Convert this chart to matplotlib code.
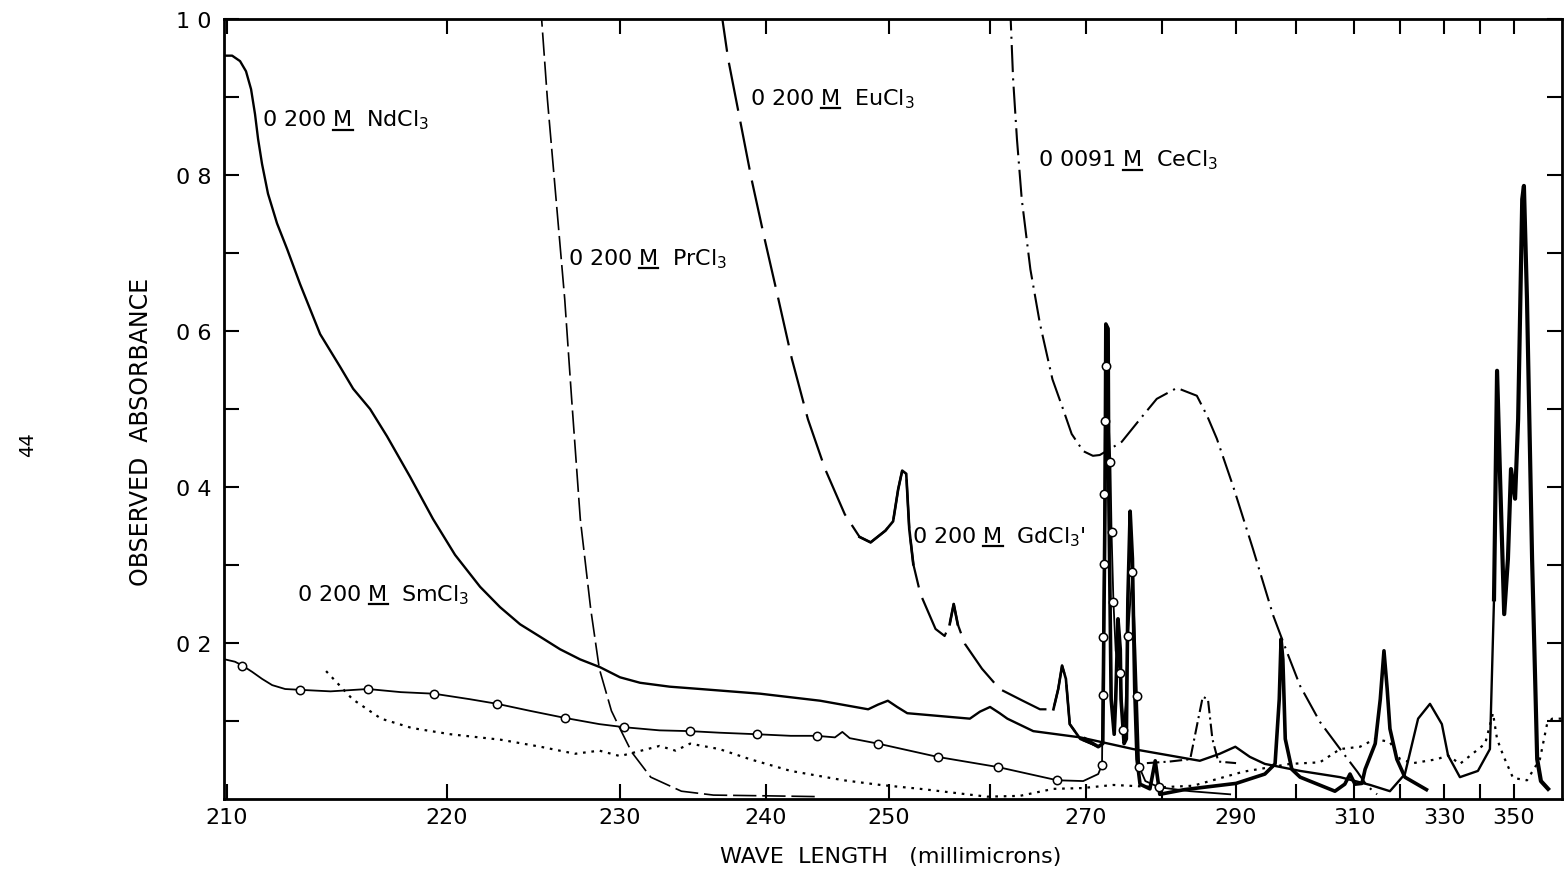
import numpy as np
import matplotlib.pyplot as plt
from matplotlib.lines import Line2D
from matplotlib.transforms import IdentityTransform

plt.rcParams['font.family'] = ['DejaVu Sans']
plt.rcParams['mathtext.default'] = 'regular'

# recorder chart: the wavelength drum is not linear, so nm -> chart position
drum_nm = [200, 210, 220, 230, 240, 250, 260, 270, 280, 290, 300, 310, 320, 330, 340, 350, 360, 370]
drum_pos = [7, 227, 447, 620, 766, 889, 990, 1086, 1162, 1236, 1296, 1354, 1400, 1444, 1480, 1514, 1548, 1582]

# 0.200 M NdCl3 (solid)
nd_nm = [209.9, 210.23, 210.59, 210.86, 211.09, 211.27, 211.41, 211.59, 211.86, 212.27, 212.73, 213.32,
         214.23, 215.14, 215.73, 216.5, 217.27, 218.32, 219.36, 220.46, 221.91, 223.06, 224.22, 225.38,
         226.53, 227.69, 228.84, 230.0, 231.37, 233.4, 235.5, 239.6, 244.4, 248.3, 249.1, 249.9, 250.8,
         251.8, 258.0, 259.0, 260.0, 261.0, 261.8, 264.5, 269.4, 276.2, 285.1, 287.8, 289.9, 292.3, 294.8,
         300.7, 307.6, 313.5, 317.8, 321.1, 324.1, 326.8, 329.5, 331.1, 334.4, 339.4, 342.9, 344.1, 345.0,
         345.9, 347.1, 348.2, 349.1, 350.3, 351.2, 352.4, 352.9, 353.8, 355.3, 356.8, 357.9, 360.0]
nd_a = [0.953, 0.953, 0.946, 0.933, 0.910, 0.878, 0.846, 0.814, 0.776, 0.738, 0.705, 0.660,
        0.596, 0.554, 0.526, 0.500, 0.465, 0.413, 0.359, 0.313, 0.272, 0.246, 0.224, 0.208,
        0.192, 0.179, 0.169, 0.156, 0.149, 0.144, 0.141, 0.135, 0.126, 0.115, 0.121, 0.126, 0.118,
        0.110, 0.103, 0.112, 0.118, 0.110, 0.103, 0.087, 0.079, 0.064, 0.049, 0.058, 0.067, 0.054, 0.045,
        0.036, 0.028, 0.018, 0.010, 0.032, 0.103, 0.122, 0.096, 0.056, 0.028, 0.036, 0.064, 0.256, 0.549,
        0.410, 0.237, 0.308, 0.423, 0.385, 0.487, 0.769, 0.786, 0.641, 0.308, 0.051, 0.023, 0.013]

# 0.200 M PrCl3 (short dashes)
pr_nm = [225.4, 225.8, 226.3, 226.8, 227.2, 227.7, 228.3, 228.8, 229.5, 230.0, 230.8, 232.1, 234.2, 236.4,
         240.3, 244.4]
pr_a = [1.02, 0.897, 0.769, 0.641, 0.513, 0.359, 0.244, 0.167, 0.113, 0.090, 0.060, 0.028, 0.010, 0.005,
        0.004, 0.003]

# 0.200 M EuCl3 (long dashes)
eu_nm = [236.85, 237.4, 238.2, 239.0, 239.9, 241.0, 242.1, 243.4, 244.8, 246.4, 247.6, 248.5, 249.7, 250.4,
         250.9, 251.3, 251.7, 252.0, 252.4, 253.1, 254.6, 255.5, 256.0, 256.4, 256.8, 257.5, 259.2, 261.0,
         263.4, 265.2, 266.6, 267.1, 267.5, 267.9, 268.3, 269.4, 271.2]
eu_a = [1.02, 0.949, 0.872, 0.795, 0.718, 0.641, 0.564, 0.487, 0.423, 0.365, 0.336, 0.329, 0.344, 0.356,
        0.397, 0.421, 0.417, 0.346, 0.301, 0.263, 0.218, 0.209, 0.224, 0.250, 0.224, 0.199, 0.167, 0.141,
        0.126, 0.115, 0.115, 0.141, 0.171, 0.154, 0.096, 0.077, 0.069]

# 0.0091 M CeCl3 (dash-dot)
ce_nm = [262.08, 262.4, 262.8, 263.3, 264.2, 265.2, 266.5, 267.6, 268.5, 269.7, 270.9, 271.8, 273.2, 274.7,
         277.1, 279.3, 282.0, 284.7, 286.1, 287.4, 289.6, 292.8, 296.2, 298.5, 300.7, 304.1, 307.6, 310.7,
         312.8, 315.0]
ce_a = [1.02, 0.923, 0.846, 0.769, 0.679, 0.609, 0.538, 0.500, 0.468, 0.446, 0.440, 0.441, 0.449, 0.458,
        0.487, 0.513, 0.527, 0.517, 0.491, 0.462, 0.401, 0.321, 0.235, 0.188, 0.145, 0.099, 0.064, 0.035,
        0.017, 0.006]

# 0.200 M GdCl3 (line through open circles)
gc_nm = [209.9, 210.36, 210.7, 211.14, 211.59, 212.05, 212.64, 213.3, 214.7, 216.4, 217.9, 219.4, 221.3,
         222.9, 224.8, 226.8, 228.8, 230.3, 232.7, 234.8, 236.8, 239.4, 242.0, 244.1, 245.6, 246.2, 246.8,
         249.1, 254.8, 260.8, 267.0, 269.7, 271.6, 272.1, 272.35, 272.5, 272.6, 272.9, 273.2, 273.35, 273.6,
         273.9, 274.5, 274.9, 275.2, 275.5, 276.1, 276.5, 276.7, 277.0, 277.8, 279.6, 283.8, 289.2]
gc_a = [0.179, 0.176, 0.171, 0.163, 0.154, 0.146, 0.141, 0.140, 0.138, 0.141, 0.137, 0.135, 0.128,
        0.122, 0.113, 0.104, 0.096, 0.092, 0.088, 0.087, 0.085, 0.083, 0.081, 0.081, 0.079, 0.086, 0.078,
        0.071, 0.054, 0.041, 0.024, 0.023, 0.032, 0.044, 0.300, 0.500, 0.558, 0.500, 0.432, 0.342, 0.253,
        0.190, 0.162, 0.088, 0.120, 0.209, 0.291, 0.190, 0.132, 0.041, 0.023, 0.015, 0.010, 0.006]
gm_nm = [210.7, 213.3, 216.4, 219.4, 222.9, 226.8, 230.3, 234.8, 239.4, 244.1, 249.1, 254.8, 260.8, 267.0,
         272.1, 272.19, 272.26, 272.35, 272.42, 272.49, 272.58, 273.2, 273.35, 273.6, 274.5, 274.9, 275.5,
         276.1, 276.7, 277.0, 279.6]
gm_a = [0.171, 0.140, 0.141, 0.135, 0.122, 0.104, 0.092, 0.087, 0.083, 0.081, 0.071, 0.054, 0.041, 0.024,
        0.044, 0.133, 0.208, 0.301, 0.391, 0.485, 0.555, 0.432, 0.342, 0.253, 0.162, 0.088, 0.209, 0.291,
        0.132, 0.041, 0.015]

# heavy trace with the sharp lines
hv_nm = [269.9, 271.6, 272.2, 272.5, 272.6, 272.9, 273.0, 273.3, 273.7, 273.9, 274.2, 274.5, 274.6, 275.0,
         275.3, 275.5, 275.8, 276.1, 276.4, 276.7, 277.1, 278.4, 279.1, 279.7, 283.0, 290.0, 294.8, 296.5,
         297.2, 297.5, 297.8, 298.2, 299.3, 300.7, 306.7, 308.4, 309.3, 310.2, 311.7, 312.4, 314.6, 315.7,
         316.5, 317.2, 317.8, 319.3, 321.1, 326.0]
hv_a = [0.077, 0.067, 0.071, 0.385, 0.609, 0.603, 0.385, 0.128, 0.083, 0.128, 0.231, 0.192, 0.128, 0.071,
        0.077, 0.256, 0.369, 0.308, 0.141, 0.051, 0.019, 0.013, 0.049, 0.006, 0.012, 0.020, 0.032, 0.045,
        0.128, 0.205, 0.179, 0.077, 0.038, 0.028, 0.010, 0.019, 0.032, 0.019, 0.020, 0.038, 0.071, 0.128,
        0.190, 0.141, 0.090, 0.051, 0.028, 0.012]

# 0.200 M SmCl3 (dotted)
sm_nm = [214.5, 215.7, 217.0, 218.4, 220.2, 223.1, 225.4, 227.4, 228.8, 230.0, 232.7, 233.8, 234.8, 236.8,
         238.9, 242.0, 246.3, 249.3, 253.1, 259.7, 263.1, 266.6, 269.6, 273.6, 279.7, 284.2, 291.2, 299.0,
         304.1, 307.6, 311.3, 314.6, 317.8, 320.0, 323.0, 328.4, 331.1, 334.4, 341.5, 343.8, 345.0, 346.8,
         349.7, 353.8, 357.6, 359.7, 361.2, 364.1]
sm_a = [0.164, 0.128, 0.103, 0.091, 0.083, 0.076, 0.067, 0.058, 0.062, 0.055, 0.068, 0.062, 0.071, 0.064,
        0.051, 0.036, 0.024, 0.018, 0.013, 0.003, 0.004, 0.013, 0.014, 0.018, 0.015, 0.017, 0.035, 0.045,
        0.047, 0.064, 0.067, 0.077, 0.073, 0.051, 0.046, 0.051, 0.056, 0.045, 0.071, 0.110, 0.077, 0.056,
        0.027, 0.024, 0.051, 0.096, 0.103, 0.103]

# small dash-dot band near 285
dd_nm = [278.0, 281.0, 283.8, 284.9, 285.5, 286.2, 286.8, 287.6, 290.0]
dd_a = [0.046, 0.048, 0.051, 0.103, 0.131, 0.128, 0.077, 0.048, 0.046]

x_ticks = list(range(210, 360, 10))
x_labels = ['210', '220', '230', '240', '250', '', '270', '', '290', '', '310', '', '330', '', '350']
y_ticks = [0.1, 0.2, 0.3, 0.4, 0.5, 0.6, 0.7, 0.8, 0.9, 1.0]
y_labels = ['', '0 2', '', '0 4', '', '0 6', '', '0 8', '', '1 0']

curve_labels = [
    ("0 200", "NdCl$_3$", 211.6, 0.863),
    ("0 200", "PrCl$_3$", 227.0, 0.686),
    ("0 200", "EuCl$_3$", 238.9, 0.891),
    ("0 0091", "CeCl$_3$", 265.0, 0.812),
    ("0 200", "GdCl$_3$'", 252.3, 0.329),
    ("0 200", "SmCl$_3$", 213.2, 0.255),
]


def to_drum(x):
    return np.interp(x, drum_nm, drum_pos)


def from_drum(p):
    return np.interp(p, drum_pos, drum_nm)


fig = plt.figure(figsize=(15.67, 8.7), dpi=100)
ax = fig.add_axes([224 / 1567, 70 / 870, 1338 / 1567, 780 / 870])
ax.set_xscale('function', functions=(to_drum, from_drum))

nd_nm, nd_a = np.array(nd_nm), np.array(nd_a)
eu_nm, eu_a = np.array(eu_nm), np.array(eu_a)

ax.plot(nd_nm, nd_a, color='k', lw=1.7, solid_joinstyle='round')
pk = nd_nm >= 343.5
ax.plot(nd_nm[pk], nd_a[pk], color='k', lw=3.0)

ax.plot(pr_nm, pr_a, color='k', lw=1.2, linestyle=(0, (14, 3.5)))

ax.plot(eu_nm, eu_a, color='k', lw=1.6, linestyle=(0, (22, 5)))
for lo, hi in [(247.5, 252.5), (255.8, 257.0), (266.5, 272.0)]:
    m = (eu_nm >= lo) & (eu_nm <= hi)
    ax.plot(eu_nm[m], eu_a[m], color='k', lw=1.9)

ax.plot(ce_nm, ce_a, color='k', lw=1.5, linestyle=(0, (13, 3, 1, 3)))
ax.plot(dd_nm, dd_a, color='k', lw=1.5, linestyle=(0, (6, 2, 1, 2)))

ax.plot(sm_nm, sm_a, color='k', lw=1.6, linestyle=(0, (1.2, 2.6)))

ax.plot(hv_nm, hv_a, color='k', lw=2.6)

ax.plot(gc_nm, gc_a, color='k', lw=1.3)
ax.plot(gm_nm, gm_a, linestyle='none', marker='o', ms=6, mfc='white', mec='k', mew=1.1, zorder=5)

ax.set_xlim(209.86, 364.1)
ax.set_ylim(0, 1.0)

ax.set_xticks(x_ticks)
ax.set_xticklabels(x_labels)
ax.xaxis.set_minor_locator(plt.NullLocator())
ax.set_yticks(y_ticks)
ax.set_yticklabels(y_labels)
ax.tick_params(axis='both', direction='in', length=11, width=1.5, labelsize=16,
               top=True, right=True)
ax.tick_params(axis='x', pad=6)
ax.tick_params(axis='y', pad=9)
for s in ax.spines.values():
    s.set_linewidth(2)

ax.text(0.4985, -0.073, "WAVE  LENGTH   (millimicrons)", transform=ax.transAxes,
        ha='center', va='center', fontsize=16)
ax.text(-0.062, 0.472, "OBSERVED  ABSORBANCE", transform=ax.transAxes,
        ha='center', va='center', rotation=90, fontsize=17)
fig.text(28 / 1567, 1 - 445 / 870, "44", rotation=90, ha='center', va='center', fontsize=14)

# curve names, with the molar M underlined as on the original
fig.canvas.draw()
rend = fig.canvas.get_renderer()
for conc, salt, x, y in curve_labels:
    ax.text(x, y, conc + " M  " + salt, fontsize=16, va='baseline', ha='left')
    tmp = ax.text(x, y, conc + " M", fontsize=16, va='baseline', ha='left')
    tm = ax.text(x, y, "M", fontsize=16, va='baseline', ha='left')
    x_end = tmp.get_window_extent(rend).x1
    m_w = tm.get_window_extent(rend).width
    tmp.remove()
    tm.remove()
    yb = ax.transData.transform((x, y))[1] - 4
    fig.add_artist(Line2D([x_end - m_w, x_end], [yb, yb], transform=IdentityTransform(),
                          color='k', lw=1.6))

fig.savefig("out.png", dpi=100)
